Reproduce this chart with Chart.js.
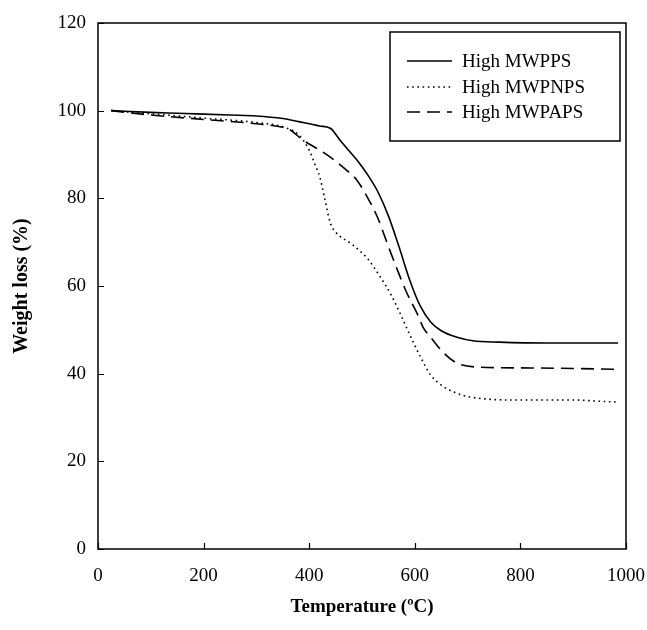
<!DOCTYPE html>
<html>
<head>
<meta charset="utf-8">
<script src="https://cdn.jsdelivr.net/npm/chart.js@4"></script>
<style>
  html, body { margin: 0; padding: 0; background: #fff; }
  #wrap { width: 647px; height: 630px; position: relative; }
</style>
</head>
<body>
<div id="wrap"><canvas id="c" width="647" height="630"></canvas></div>
<script>
// ---- data ----
const seriesLabels = ["High MWPPS", "High MWPNPS", "High MWPAPS"];

const ppsTemp = [25,100,150,200,250,300,350,380,400,420,440,460,490,510,530,550,570,590,610,630,650,680,710,760,850,985];
const ppsWeight = [100,99.6,99.4,99.2,99.0,98.8,98.2,97.5,97,96.5,96,93,88.8,85.5,81.5,76,69,61.5,55.5,51.8,49.8,48.3,47.5,47.2,47,47];

const npsTemp = [25,100,200,300,350,380,400,410,420,430,440,450,480,510,535,555,575,590,610,630,655,690,720,780,900,950,985];
const npsWeight = [100,99.3,98.3,97.3,96.3,94.5,91,88,84.9,79.6,74.4,72.3,69.6,66.3,62,58,53,49,44,39.7,37,35.1,34.4,34,34,33.7,33.5];

const pasTemp = [25,100,200,300,350,364,388,420,440,470,490,510,530,550,565,585,605,616,630,655,680,720,820,985];
const pasWeight = [100,99,98,97,96.2,95.6,93.3,91,89.4,86.5,84.2,80.3,75.5,69,64.3,58.4,53.6,50.5,48.3,44.7,42.4,41.5,41.3,41];

const xTicks = [0,200,400,600,800,1000];
const yTicks = [0,20,40,60,80,100,120];

const toPts = (xs, ys) => xs.map((x, i) => ({x: x, y: ys[i]}));

const FONT = "'Liberation Serif', 'Times New Roman', serif";

// frame, inward ticks and boxed legend
const framePlugin = {
  id: 'frame',
  afterDraw(chart) {
    const ctx = chart.ctx, a = chart.chartArea;
    const xs = chart.scales.x, ys = chart.scales.y;
    ctx.save();
    ctx.strokeStyle = '#000';
    ctx.lineWidth = 1.5;
    ctx.strokeRect(a.left, a.top, a.right - a.left, a.bottom - a.top);
    ctx.lineWidth = 1.2;
    ctx.beginPath();
    xTicks.forEach(v => {
      const px = Math.round(xs.getPixelForValue(v)) + 0.5;
      ctx.moveTo(px, a.bottom); ctx.lineTo(px, a.bottom - 6);
    });
    yTicks.forEach(v => {
      const py = Math.round(ys.getPixelForValue(v)) + 0.5;
      ctx.moveTo(a.left, py); ctx.lineTo(a.left + 6, py);
    });
    ctx.stroke();

    // legend box
    const bx = a.left + 292, by = a.top + 9, bw = 230, bh = 109;
    ctx.lineWidth = 1.5;
    ctx.strokeRect(bx, by, bw, bh);
    ctx.font = "19px " + FONT;
    ctx.fillStyle = '#000';
    ctx.textBaseline = 'middle';
    const rowY = [by + 29, by + 55, by + 80];
    chart.data.datasets.forEach((ds, i) => {
      const y = rowY[i];
      ctx.beginPath();
      ctx.lineWidth = ds.borderWidth;
      ctx.setLineDash(ds.borderDash || []);
      ctx.moveTo(bx + 17, y); ctx.lineTo(bx + 62, y);
      ctx.stroke();
      ctx.setLineDash([]);
      ctx.fillText(ds.label, bx + 72, y + 1);
    });
    ctx.restore();
  }
};

new Chart(document.getElementById('c'), {
  type: 'scatter',
  data: {
    datasets: [
      { label: seriesLabels[0], data: toPts(ppsTemp, ppsWeight), showLine: true,
        borderColor: '#000', borderWidth: 1.6, pointRadius: 0, borderDash: [],
        cubicInterpolationMode: 'monotone' },
      { label: seriesLabels[1], data: toPts(npsTemp, npsWeight), showLine: true,
        borderColor: '#000', borderWidth: 1.6, pointRadius: 0, borderDash: [1.6, 3.6],
        cubicInterpolationMode: 'monotone' },
      { label: seriesLabels[2], data: toPts(pasTemp, pasWeight), showLine: true,
        borderColor: '#000', borderWidth: 1.6, pointRadius: 0, borderDash: [13, 7],
        cubicInterpolationMode: 'monotone' }
    ]
  },
  options: {
    responsive: false,
    animation: false,
    devicePixelRatio: 1,
    layout: { padding: { left: 0, top: 23, right: 21, bottom: 0 } },
    plugins: { legend: { display: false }, tooltip: { enabled: false } },
    scales: {
      x: {
        type: 'linear', min: 0, max: 1000,
        afterBuildTicks: s => { s.ticks = xTicks.map(v => ({value: v})); },
        afterFit: s => { s.height = 81; s.paddingLeft = 0; s.paddingRight = 0; },
        grid: { display: false, drawTicks: false },
        border: { display: false },
        ticks: { color: '#000', padding: 16, font: { family: FONT, size: 19 }, maxRotation: 0,
                 callback: v => String(v) },
        title: { display: true, text: 'Temperature (ºC)', color: '#000',
                 font: { family: FONT, size: 19, weight: 'bold' }, padding: { top: 0, bottom: 12 } }
      },
      y: {
        type: 'linear', min: 0, max: 120,
        afterBuildTicks: s => { s.ticks = yTicks.map(v => ({value: v})); },
        afterFit: s => { s.width = 98; s.paddingTop = 0; s.paddingBottom = 0; },
        grid: { display: false, drawTicks: false },
        border: { display: false },
        ticks: { color: '#000', padding: 12, font: { family: FONT, size: 19 },
                 callback: v => String(v) },
        title: { display: true, text: 'Weight loss (%)', color: '#000',
                 font: { family: FONT, size: 20, weight: 'bold' }, padding: { top: 10, bottom: 0 } }
      }
    }
  },
  plugins: [framePlugin]
});
</script>
</body>
</html>
